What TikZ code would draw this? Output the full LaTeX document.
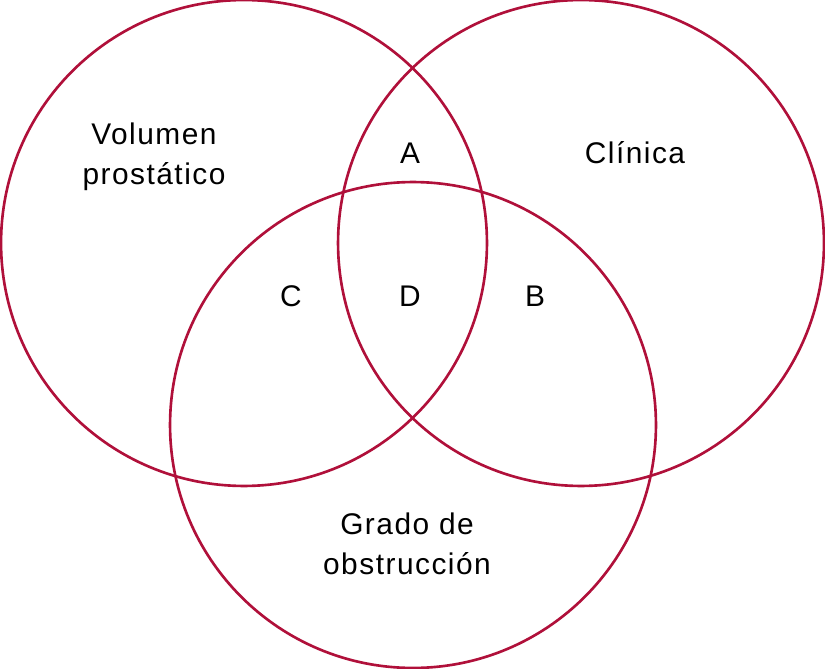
\documentclass[tikz,border=0pt]{standalone}
\usepackage{fontspec}
\setmainfont{Liberation Sans}[LetterSpace=5]
\usepackage{tikz}
\definecolor{venn}{HTML}{B0103A}

\begin{document}
\begin{tikzpicture}[
  x=0.02cm, y=-0.02cm,
  set/.style = {circle, draw=venn, line width=1.5pt, minimum size=9.72cm,
                inner sep=0pt},
  lbl/.style = {align=center, font=\fontsize{17}{22.5}\selectfont},
  zone/.style= {font=\fontsize{17}{21}\selectfont}
]
  \useasboundingbox (0,0) rectangle (825,669);

  \node[set] (vol) at (244,243) {};
  \node[set] (cli) at (581,243) {};
  \node[set] (obs) at (413,425) {};

  \node[lbl] (tvol) at (154,157) {Volumen\\prostático};
  \node[lbl] (tcli) at (635,153) {Clínica};
  \node[lbl] (tobs) at (407,544) {Grado de\\obstrucción};

  \node[zone] (za) at (410,153) {A};
  \node[zone] (zc) at (291,296) {C};
  \node[zone] (zd) at (410,296) {D};
  \node[zone] (zb) at (535,296) {B};
\end{tikzpicture}
\end{document}
